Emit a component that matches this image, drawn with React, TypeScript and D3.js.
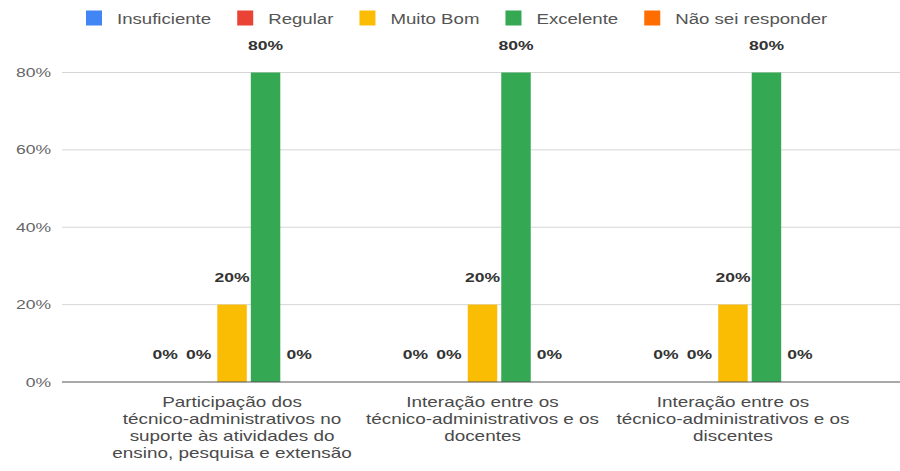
import React from "react";
import * as d3 from "d3";

const categories: string[] = [
  "Participação dos\ntécnico-administrativos no\nsuporte às atividades do\nensino, pesquisa e extensão",
  "Interação entre os\ntécnico-administrativos e os\ndocentes",
  "Interação entre os\ntécnico-administrativos e os\ndiscentes",
];
const seriesNames: string[] = ["Insuficiente", "Regular", "Muito Bom", "Excelente", "Não sei responder"];
const seriesColors: string[] = ["#4285F4", "#EA4335", "#FBBC04", "#34A853", "#FF6D01"];
// values per series, one per category
const insuficiente: number[] = [0, 0, 0];
const regular: number[] = [0, 0, 0];
const muitoBom: number[] = [0.2, 0.2, 0.2];
const excelente: number[] = [0.8, 0.8, 0.8];
const naoSei: number[] = [0, 0, 0];
const seriesValues: number[][] = [insuficiente, regular, muitoBom, excelente, naoSei];
const yTicks: number[] = [0, 0.2, 0.4, 0.6, 0.8];

const W = 900;
const H = 471;
const SX = 1.35; // horizontal text stretch of the reference
const FONT = "'Liberation Sans', Arial, Helvetica, sans-serif";

function measure(text: string, size: number, weight = "normal"): number {
  if (typeof document === "undefined") return text.length * size * 0.5;
  const c = document.createElement("canvas");
  const ctx = c.getContext("2d");
  if (!ctx) return text.length * size * 0.5;
  ctx.font = `${weight} ${size}px 'Liberation Sans', Arial, sans-serif`;
  return ctx.measureText(text).width;
}

export default function App() {
  const plotLeft = 62;
  const plotRight = 903;
  const y = d3.scaleLinear().domain([0, 0.8]).range([382, 72.5]);
  const x0 = d3.scaleBand<string>().domain(categories).range([plotLeft, plotRight]).paddingInner(0).paddingOuter(0.179);
  const groupW = 167.5;
  const x1 = d3.scaleBand<string>().domain(seriesNames).range([0, groupW]).paddingInner(0.12).paddingOuter(0.06);
  const offset = (x0.bandwidth() - groupW) / 2;
  const fmt = d3.format(".0%");

  // legend layout
  const legendFont = 13.8;
  const legendItems: { name: string; color: string; x: number; tx: number }[] = [];
  let lx = 86;
  seriesNames.forEach((name, i) => {
    const tw = measure(name, legendFont) * SX;
    legendItems.push({ name, color: seriesColors[i], x: lx, tx: lx + 31 });
    lx += 31 + tw + 26;
  });

  return (
    <svg
      width={W}
      height={H}
      style={{ position: "absolute", left: 0, top: 0, display: "block", background: "#fff" }}
      fontFamily={FONT}
    >
      <rect x={0} y={0} width={W} height={H} fill="#fff" />
      {/* legend */}
      {legendItems.map((it) => (
        <g key={it.name}>
          <rect x={it.x} y={10.5} width={16} height={15} fill={it.color} />
          <text transform={`translate(${it.tx},23.5) scale(${SX},1)`} fontSize={legendFont} fill="#555">
            {it.name}
          </text>
        </g>
      ))}
      {/* gridlines and y ticks */}
      {yTicks.map((t) => (
        <g key={t}>
          {t !== 0 && (
            <line x1={plotLeft} x2={W} y1={y(t)} y2={y(t)} stroke="#d6d6d6" strokeWidth={1} />
          )}
          <text
            transform={`translate(51,${y(t) + 4.5}) scale(${SX},1)`}
            fontSize={13}
            fill="#666"
            textAnchor="end"
          >
            {fmt(t)}
          </text>
        </g>
      ))}
      {/* bars */}
      {categories.map((cat, ci) => (
        <g key={cat}>
          {seriesNames.map((s, si) => {
            const v = seriesValues[si][ci];
            const bx = (x0(cat) as number) + offset + (x1(s) as number);
            const bw = x1.bandwidth();
            return (
              <g key={s}>
                {v > 0 && (
                  <rect x={bx} y={y(v)} width={bw} height={y(0) - y(v)} fill={seriesColors[si]} />
                )}
                <text
                  transform={`translate(${bx + bw / 2},${y(v) - 23}) scale(${SX},1)`}
                  fontSize={13}
                  fontWeight="bold"
                  fill="#333"
                  textAnchor="middle"
                >
                  {fmt(v)}
                </text>
              </g>
            );
          })}
        </g>
      ))}
      {/* baseline */}
      <line x1={plotLeft} x2={W} y1={y(0)} y2={y(0)} stroke="#555" strokeWidth={1.2} />
      {/* category labels */}
      {categories.map((cat) => {
        const cx = (x0(cat) as number) + x0.bandwidth() / 2;
        return (
          <g key={cat}>
            {cat.split("\n").map((line, li) => (
              <text
                key={li}
                transform={`translate(${cx},${406.5 + li * 17.2}) scale(${SX},1)`}
                fontSize={14}
                fill="#4a4a4a"
                textAnchor="middle"
              >
                {line}
              </text>
            ))}
          </g>
        );
      })}
    </svg>
  );
}
